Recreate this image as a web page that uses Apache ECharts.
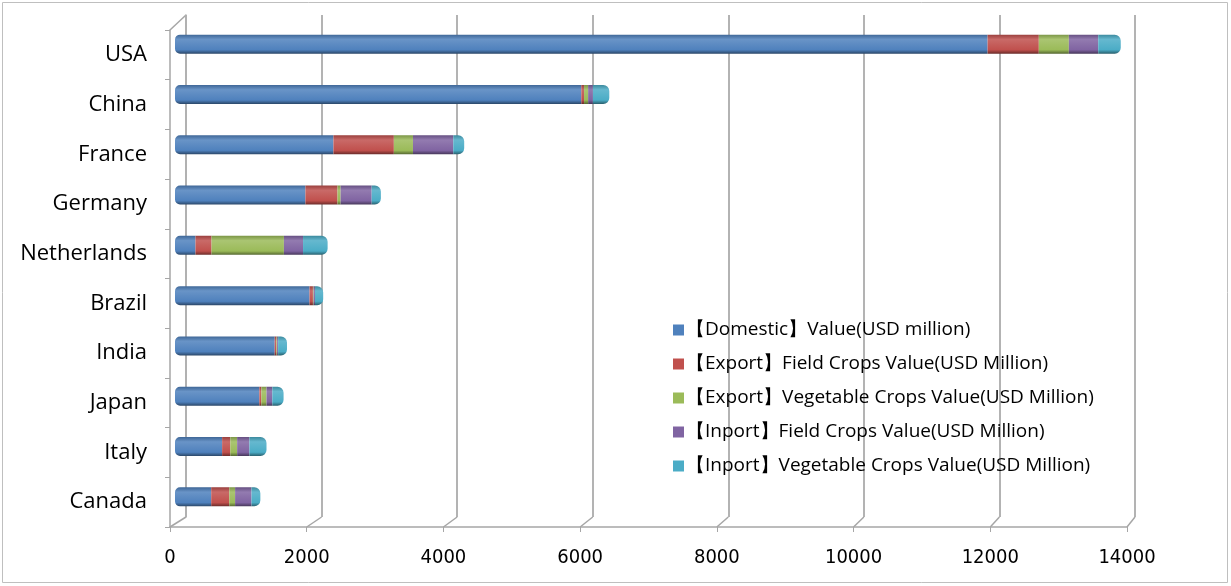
<!DOCTYPE html>
<html>
<head>
<meta charset="utf-8">
<script src="https://cdn.jsdelivr.net/npm/echarts/dist/echarts.min.js"></script>
<style>
  html, body { margin: 0; padding: 0; background: #ffffff; }
  #chart { width: 1231px; height: 586px; }
</style>
</head>
<body>
<div id="chart"></div>
<script>
// Production value by country, USD million
const countries = ['USA', 'China', 'France', 'Germany', 'Netherlands', 'Brazil', 'India', 'Japan', 'Italy', 'Canada'];
const domesticValue = [11900, 5950, 2320, 1910, 300, 1970, 1460, 1235, 690, 530];
const exportFieldCrops = [750, 40, 885, 470, 235, 50, 25, 30, 120, 265];
const exportVegetableCrops = [440, 60, 280, 45, 1060, 10, 10, 75, 100, 85];
const importFieldCrops = [430, 70, 590, 455, 280, 20, 15, 85, 180, 240];
const importVegetableCrops = [330, 240, 160, 135, 360, 120, 130, 165, 250, 130];

const seriesNames = [
  '【Domestic】Value(USD million)',
  '【Export】Field Crops Value(USD Million)',
  '【Export】Vegetable Crops Value(USD Million)',
  '【Inport】Field Crops Value(USD Million)',
  '【Inport】Vegetable Crops Value(USD Million)'
];
const seriesValues = [domesticValue, exportFieldCrops, exportVegetableCrops, importFieldCrops, importVegetableCrops];
const seriesColors = ['#4F81BD', '#C0504D', '#9BBB59', '#8064A2', '#4BACC6'];

const xTicks = { min: 0, max: 14000, interval: 2000 };
const FONT = "'Open Sans', 'Noto Sans', sans-serif";
const NUM_FONT = "'Liberation Sans Narrow', 'DejaVu Sans Condensed', 'Open Sans', sans-serif";

function shade(hex, f) {
  const n = parseInt(hex.slice(1), 16);
  let r = (n >> 16) & 255, g = (n >> 8) & 255, b = n & 255;
  const adj = c => f >= 0 ? Math.round(c + (255 - c) * f) : Math.round(c * (1 + f));
  return 'rgb(' + adj(r) + ',' + adj(g) + ',' + adj(b) + ')';
}

// cylinder-like shading across the bar thickness
function tube(hex) {
  return new echarts.graphic.LinearGradient(0, 0, 0, 1, [
    { offset: 0, color: shade(hex, -0.2) },
    { offset: 0.25, color: shade(hex, 0.15) },
    { offset: 0.5, color: shade(hex, 0.08) },
    { offset: 0.8, color: hex },
    { offset: 1, color: shade(hex, -0.45) }
  ]);
}

const chart = echarts.init(document.getElementById('chart'), null, { renderer: 'canvas' });

const barSeries = seriesNames.map((name, i) => ({
  name: name,
  type: 'bar',
  stack: 'total',
  xAxisIndex: 2,
  yAxisIndex: 2,
  barWidth: 19,
  data: seriesValues[i],
  itemStyle: {
    color: tube(seriesColors[i]),
    borderRadius: i === 0 ? [5, 0, 0, 5] : (i === seriesNames.length - 1 ? [0, 6, 6, 0] : 0)
  },
  emphasis: { disabled: true }
}));

const option = {
  animation: false,
  backgroundColor: '#ffffff',
  color: seriesColors,
  grid: [
    { left: 170, right: 104, top: 30, bottom: 59 },   // front plane: axes and labels
    { left: 186, right: 96, top: 15, bottom: 69 },    // back wall: gridlines
    { left: 175, right: 100, top: 19, bottom: 64 }    // bars, mid depth
  ],
  xAxis: [
    {
      gridIndex: 0, type: 'value', min: xTicks.min, max: xTicks.max, interval: xTicks.interval,
      axisLine: { show: true, lineStyle: { color: '#a6a6a6', width: 1.5 } },
      axisTick: { show: true, length: 5, lineStyle: { color: '#a6a6a6' } },
      splitLine: { show: false },
      axisLabel: { color: '#000', fontFamily: NUM_FONT, fontSize: 20, margin: 21, formatter: v => String(v) }
    },
    {
      gridIndex: 1, type: 'value', min: xTicks.min, max: xTicks.max, interval: xTicks.interval,
      axisLine: { show: false }, axisTick: { show: false }, axisLabel: { show: false },
      splitLine: { show: true, lineStyle: { color: '#a0a0a0', width: 1.6 } }
    },
    {
      gridIndex: 2, type: 'value', min: xTicks.min, max: xTicks.max,
      show: false
    }
  ],
  yAxis: [
    {
      gridIndex: 0, type: 'category', data: countries, inverse: true,
      axisLine: { show: true, lineStyle: { color: '#a6a6a6', width: 1.5 } },
      axisTick: { show: true, length: 5, lineStyle: { color: '#a6a6a6' } },
      axisLabel: { color: '#000', fontFamily: FONT, fontSize: 22, margin: 23, padding: [4, 0, 0, 0] },
      splitLine: { show: false }
    },
    {
      gridIndex: 1, type: 'category', data: countries, inverse: true,
      axisLine: { show: true, lineStyle: { color: '#b0b0b0', width: 1.5 } },
      axisTick: { show: false }, axisLabel: { show: false }, splitLine: { show: false }
    },
    {
      gridIndex: 2, type: 'category', data: countries, inverse: true, show: false
    }
  ],
  legend: {
    orient: 'vertical',
    left: 668,
    top: 314,
    itemWidth: 11,
    itemHeight: 11,
    itemGap: 12,
    icon: 'rect',
    selectedMode: false,
    data: seriesNames.map((n, i) => ({ name: n, itemStyle: { color: seriesColors[i] } })),
    textStyle: { color: '#000', fontFamily: FONT, fontSize: 19, lineHeight: 22, padding: [0, 0, 0, -3] }
  },
  series: barSeries
};

chart.setOption(option);

// Floor and wall depth edges, joining back-wall ticks to front-plane ticks
(function drawDepthEdges() {
  const lines = [];
  const gFront = chart.getModel().getComponent('grid', 0).coordinateSystem.getRect();
  const gBack = chart.getModel().getComponent('grid', 1).coordinateSystem.getRect();
  const fy = gFront.y + gFront.height;
  const by = gBack.y + gBack.height;
  for (let v = xTicks.min; v <= xTicks.max; v += xTicks.interval) {
    const fx = chart.convertToPixel({ xAxisIndex: 0 }, v);
    const bx = chart.convertToPixel({ xAxisIndex: 1 }, v);
    lines.push({
      type: 'line', silent: true,
      shape: { x1: bx, y1: by, x2: fx, y2: fy },
      style: { stroke: '#a6a6a6', lineWidth: 1.5 }
    });
  }
  // top-left corner of the side wall
  lines.push({
    type: 'line', silent: true,
    shape: { x1: gBack.x, y1: gBack.y, x2: gFront.x, y2: gFront.y },
    style: { stroke: '#a6a6a6', lineWidth: 1.5 }
  });
  // outer frame of the chart area
  lines.push({
    type: 'rect', silent: true,
    shape: { x: 2.5, y: 2.5, width: 1225, height: 580 },
    style: { fill: 'none', stroke: '#bfbfbf', lineWidth: 1 }
  });
  chart.setOption({ graphic: lines });
})();
</script>
</body>
</html>
